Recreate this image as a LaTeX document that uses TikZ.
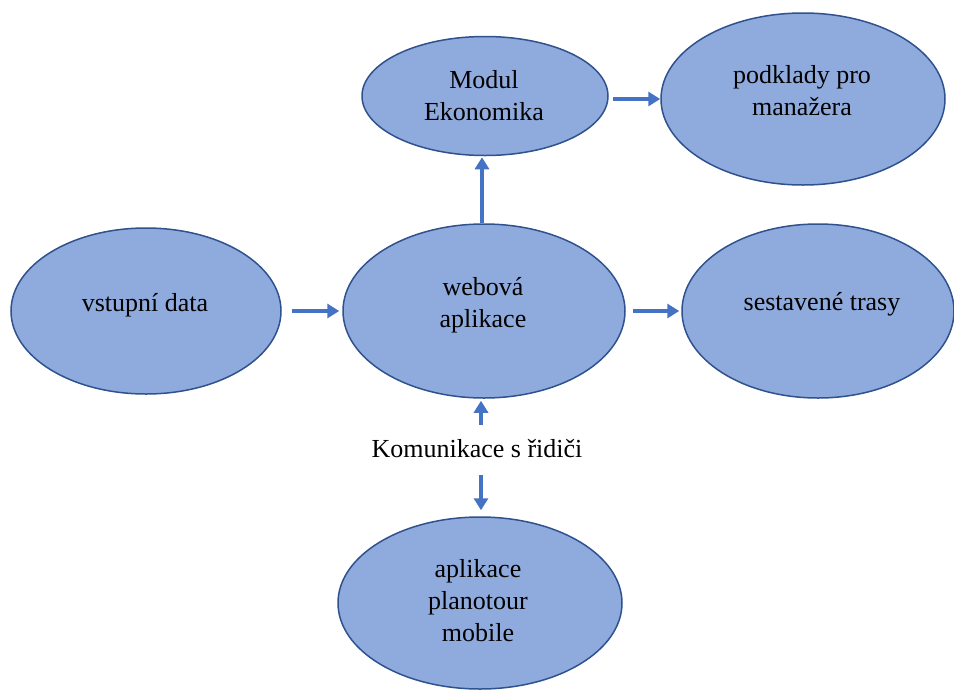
\documentclass[tikz,border=0pt]{standalone}
\usepackage{fontspec}
\setmainfont{Liberation Serif}
\usetikzlibrary{arrows.meta,shapes.geometric}
\definecolor{bubblefill}{HTML}{8FAADC}
\definecolor{bubbleline}{HTML}{2F528F}
\definecolor{flow}{HTML}{4472C4}
% centred multi-line text whose reference point is the first baseline
\newcommand\stacklines[1]{\begin{tabular}[t]{@{}c@{}}#1\end{tabular}}
\setlength{\tabcolsep}{0pt}
\begin{document}
\begin{tikzpicture}[x=1pt,y=-1pt,
  bubble/.style={ellipse, draw=bubbleline, fill=bubblefill, line width=1.5pt, inner sep=0pt},
  caption/.style={anchor=base, inner sep=0pt, font=\fontsize{26}{32}\selectfont, text=black},
  flowarrow/.style={draw=flow, line width=3.2pt, -{Triangle[length=12pt,width=14pt]}}
]
\useasboundingbox (0,0) rectangle (954,689);

% ellipses
\node[bubble, minimum width=246pt, minimum height=119pt] (modul)    at (485,96)  {};
\node[bubble, minimum width=284pt, minimum height=172pt] (podklady) at (803,99)  {};
\node[bubble, minimum width=270pt, minimum height=166pt] (vstup)    at (146,311) {};
\node[bubble, minimum width=282pt, minimum height=174pt] (web)      at (484,311) {};
\node[bubble, minimum width=272pt, minimum height=174pt] (trasy)    at (818,311) {};
\node[bubble, minimum width=284pt, minimum height=172pt] (mobile)   at (480,603) {};

% texts
\node[caption] (tModul)    at (484,88)  {\stacklines{Modul\\Ekonomika}};
\node[caption] (tPodklady) at (802,83)  {\stacklines{podklady pro\\manažera}};
\node[caption] (tVstup)    at (145,311) {vstupní data};
\node[caption] (tWeb)      at (483,295) {\stacklines{webová\\aplikace}};
\node[caption] (tTrasy)    at (822,310) {sestavené trasy};
\node[caption] (tMobile)   at (478,577) {\stacklines{aplikace\\planotour\\mobile}};
\node[caption] (komunikace) at (477,457) {Komunikace s řidiči};

% arrows
\draw[flowarrow, shorten <=10pt, shorten >=3pt] (vstup) -- (web);
\draw[flowarrow, shorten <=7pt, shorten >=2pt] (web) -- (trasy);
\draw[flowarrow, shorten >=1pt] ([xshift=-2pt]web.north) -- ([xshift=-2pt]web.north |- modul.south);
\draw[flowarrow, shorten <=4pt] (modul.east |- podklady.west) -- (podklady.west);

\coordinate (kTop) at ([shift={(4,-14)}]komunikace.north);
\coordinate (kBottom) at ([shift={(4,18)}]komunikace.south);
\draw[flowarrow, shorten >=2pt] (kTop) -- (kTop |- web.south);
\draw[flowarrow, shorten >=6pt] (kBottom) -- (kBottom |- mobile.north);
\end{tikzpicture}
\end{document}
